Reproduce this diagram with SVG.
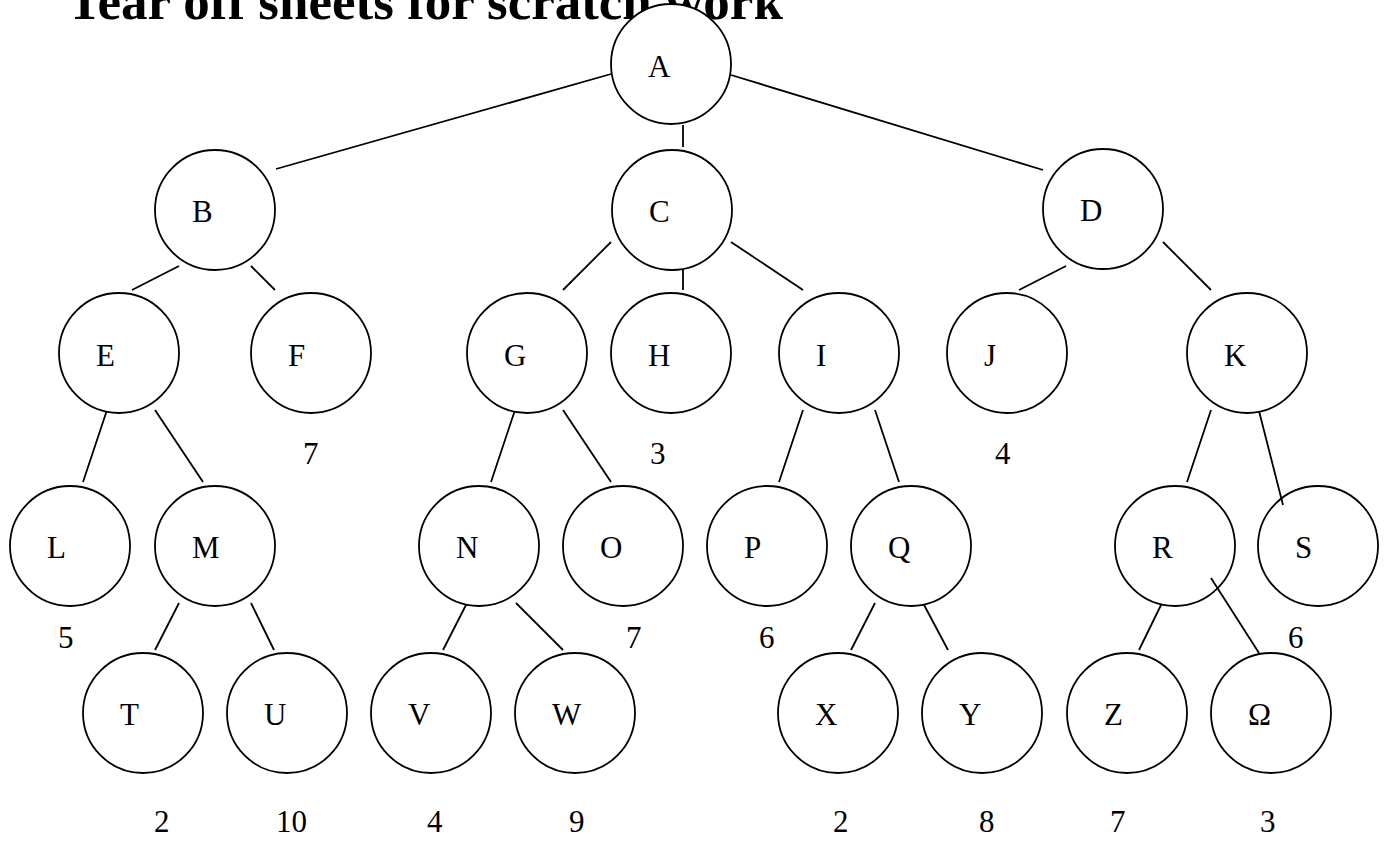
<svg xmlns="http://www.w3.org/2000/svg" width="1390" height="841" viewBox="0 0 1390 841">
<style>
.n ellipse{fill:#fff;stroke:#000;stroke-width:1.8}
.n text,.w{font-family:"Liberation Serif","Times New Roman",serif;font-size:31px;fill:#000}
#edges line,#edges-over line{stroke:#000;stroke-width:1.8}
.t{font-family:"Liberation Serif","Times New Roman",serif;font-size:53px;font-weight:bold;fill:#000}
</style>
<rect width="1390" height="841" fill="#fff"/>
<text class="t" x="67" y="19">Tear off sheets for scratch work</text>
<g id="edges">
<line x1="611" y1="74" x2="276" y2="169"/>
<line x1="683" y1="125" x2="683" y2="147"/>
<line x1="731" y1="75" x2="1043" y2="170"/>
<line x1="179" y1="266" x2="132" y2="290"/>
<line x1="251" y1="266" x2="275" y2="290"/>
<line x1="611" y1="242" x2="563" y2="290"/>
<line x1="683" y1="266" x2="683" y2="290"/>
<line x1="731" y1="242" x2="803" y2="290"/>
<line x1="1066" y1="266" x2="1019" y2="290"/>
<line x1="1163" y1="242" x2="1211" y2="290"/>
<line x1="107" y1="410" x2="83" y2="482"/>
<line x1="155" y1="410" x2="203" y2="482"/>
<line x1="515" y1="410" x2="491" y2="482"/>
<line x1="563" y1="410" x2="611" y2="482"/>
<line x1="803" y1="410" x2="779" y2="482"/>
<line x1="875" y1="410" x2="899" y2="482"/>
<line x1="1211" y1="410" x2="1187" y2="482"/>
<line x1="179" y1="603" x2="155" y2="650"/>
<line x1="251" y1="603" x2="274" y2="650"/>
<line x1="467" y1="603" x2="443" y2="650"/>
<line x1="516" y1="603" x2="563" y2="650"/>
<line x1="875" y1="603" x2="851" y2="650"/>
<line x1="923" y1="603" x2="948" y2="650"/>
<line x1="1162" y1="603" x2="1139" y2="650"/>
</g>
<g id="nA" class="n"><ellipse cx="671" cy="64" rx="60" ry="60"/><text x="648" y="77">A</text></g>
<g id="nB" class="n"><ellipse cx="215" cy="210" rx="60" ry="60"/><text x="192" y="222">B</text></g>
<g id="nC" class="n"><ellipse cx="672" cy="210" rx="60" ry="60"/><text x="649" y="222">C</text></g>
<g id="nD" class="n"><ellipse cx="1103" cy="209" rx="60" ry="60"/><text x="1080" y="221">D</text></g>
<g id="nE" class="n"><ellipse cx="119" cy="353" rx="60" ry="60"/><text x="96" y="366">E</text></g>
<g id="nF" class="n"><ellipse cx="311" cy="353" rx="60" ry="60"/><text x="288" y="366">F</text></g>
<g id="nG" class="n"><ellipse cx="527" cy="353" rx="60" ry="60"/><text x="504" y="366">G</text></g>
<g id="nH" class="n"><ellipse cx="671" cy="353" rx="60" ry="60"/><text x="648" y="366">H</text></g>
<g id="nI" class="n"><ellipse cx="839" cy="353" rx="60" ry="60"/><text x="816" y="366">I</text></g>
<g id="nJ" class="n"><ellipse cx="1007" cy="353" rx="60" ry="60"/><text x="984" y="366">J</text></g>
<g id="nK" class="n"><ellipse cx="1247" cy="353" rx="60" ry="60"/><text x="1224" y="366">K</text></g>
<g id="nL" class="n"><ellipse cx="70" cy="546" rx="60" ry="60"/><text x="47" y="558">L</text></g>
<g id="nM" class="n"><ellipse cx="215" cy="546" rx="60" ry="60"/><text x="192" y="558">M</text></g>
<g id="nN" class="n"><ellipse cx="479" cy="546" rx="60" ry="60"/><text x="456" y="558">N</text></g>
<g id="nO" class="n"><ellipse cx="623" cy="546" rx="60" ry="60"/><text x="600" y="558">O</text></g>
<g id="nP" class="n"><ellipse cx="767" cy="546" rx="60" ry="60"/><text x="744" y="558">P</text></g>
<g id="nQ" class="n"><ellipse cx="911" cy="546" rx="60" ry="60"/><text x="888" y="558">Q</text></g>
<g id="nR" class="n"><ellipse cx="1175" cy="546" rx="60" ry="60"/><text x="1152" y="558">R</text></g>
<g id="nS" class="n"><ellipse cx="1318" cy="546" rx="60" ry="60"/><text x="1295" y="558">S</text></g>
<g id="nT" class="n"><ellipse cx="143" cy="713" rx="60" ry="60"/><text x="120" y="725">T</text></g>
<g id="nU" class="n"><ellipse cx="287" cy="713" rx="60" ry="60"/><text x="264" y="725">U</text></g>
<g id="nV" class="n"><ellipse cx="431" cy="713" rx="60" ry="60"/><text x="408" y="725">V</text></g>
<g id="nW" class="n"><ellipse cx="575" cy="713" rx="60" ry="60"/><text x="552" y="725">W</text></g>
<g id="nX" class="n"><ellipse cx="838" cy="713" rx="60" ry="60"/><text x="815" y="725">X</text></g>
<g id="nY" class="n"><ellipse cx="982" cy="713" rx="60" ry="60"/><text x="959" y="725">Y</text></g>
<g id="nZ" class="n"><ellipse cx="1127" cy="713" rx="60" ry="60"/><text x="1104" y="725">Z</text></g>
<g id="nOmega" class="n"><ellipse cx="1271" cy="713" rx="60" ry="60"/><text x="1248" y="725">Ω</text></g>
<g id="edges-over">
<line x1="1259" y1="411" x2="1283" y2="505"/>
<line x1="1211" y1="578" x2="1259" y2="653"/>
</g>
<g id="weights">
<text class="w" x="303" y="464">7</text>
<text class="w" x="650" y="464">3</text>
<text class="w" x="995" y="464">4</text>
<text class="w" x="58" y="648">5</text>
<text class="w" x="626" y="648">7</text>
<text class="w" x="759" y="648">6</text>
<text class="w" x="1288" y="648">6</text>
<text class="w" x="154" y="832">2</text>
<text class="w" x="276" y="832">10</text>
<text class="w" x="427" y="832">4</text>
<text class="w" x="569" y="832">9</text>
<text class="w" x="833" y="832">2</text>
<text class="w" x="979" y="832">8</text>
<text class="w" x="1110" y="832">7</text>
<text class="w" x="1260" y="832">3</text>
</g>
</svg>
